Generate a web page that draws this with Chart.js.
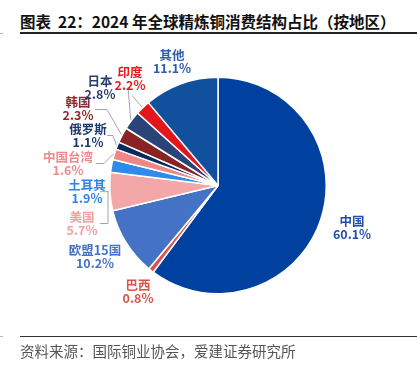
<!DOCTYPE html>
<html>
<head>
<meta charset="utf-8">
<script src="https://cdn.jsdelivr.net/npm/chart.js@4.4.1/dist/chart.umd.min.js"></script>
<style>
    body { margin: 0; background: #fff; }
    #wrap { position: relative; width: 417px; height: 371px; overflow: hidden; font-family: "Noto Sans CJK SC", "Noto Sans", sans-serif; }
    #title { position: absolute; left: 20px; top: 11px; font-size: 15.5px; font-weight: bold; color: #111; white-space: nowrap; line-height: 20px; }
    #tline { position: absolute; left: 20px; right: 0; top: 32px; height: 2px; background: #222; }
    #sline { position: absolute; left: 20px; right: 0; top: 336px; height: 1px; background: #333; }
    #source { position: absolute; left: 20px; top: 341px; font-size: 14.5px; color: #555; white-space: nowrap; line-height: 20px; }
    .tick { position: absolute; left: 0; width: 3px; height: 1px; background: #bbb; }
    canvas { position: absolute; left: 0; top: 0; }
</style>
</head>
<body>
<div id="wrap">
    <div id="title">图表&nbsp; 22：2024 年全球精炼铜消费结构占比（按地区）</div>
    <div id="tline"></div>
    <div class="tick" style="top:33px"></div>
    <canvas id="pie" width="417" height="371"></canvas>
    <div id="sline"></div>
    <div class="tick" style="top:336px"></div>
    <div id="source">资料来源：国际铜业协会，爱建证券研究所</div>
</div>
<script>
// ---------------------------- Données ------------------------------------
const regions = ['中国', '巴西', '欧盟15国', '美国', '土耳其', '中国台湾', '俄罗斯', '韩国', '日本', '印度', '其他'];
const shares = [60.1, 0.8, 10.2, 5.7, 1.9, 1.6, 1.1, 2.3, 2.8, 2.2, 11.1];

// couleurs des parts et des étiquettes
const sliceColors = ['#0041a0', '#d9534c', '#4472c4', '#f4a7a9', '#2e8bea', '#f08585', '#0b2a5e', '#8a2424', '#2a4478', '#e4161c', '#11509c'];
const labelColors = ['#1f4fa8', '#d9534c', '#4472c4', '#f2a0a2', '#2e86e8', '#f08a8a', '#1f3a6e', '#8b2b2b', '#2c3e6e', '#e8191f', '#2e5daa'];

// position des étiquettes (décalage par rapport au centre du camembert)
const labelPos = [[134, 36], [-80, 100], [-123, 65], [-136, 32], [-131, 0], [-150, -28], [-130, -56], [-140, -83], [-118, -104], [-88, -113], [-46, -130]];
// lignes de rappel : points après le milieu de l'arc (décalage par rapport au centre)
const leaders = {
    9: [[-86, -90]],
    8: [[-90, -98]],
    7: [[-111, -76], [-123, -76]],
    6: [[-105, -50], [-111, -50]],
    5: [[-114, -22], [-122, -22]]
};

const leaderPlugin = {
    id: 'leaderLabels',
    afterDraw(chart) {
        const ctx = chart.ctx;
        const arcs = chart.getDatasetMeta(0).data;
        const cx = arcs[0].x;
        const cy = arcs[0].y;
        ctx.save();
        ctx.strokeStyle = '#a6a6a6';
        ctx.lineWidth = 1;
        Object.keys(leaders).forEach(k => {
            const a = arcs[k];
            const mid = (a.startAngle + a.endAngle) / 2;
            const r = a.outerRadius + 1;
            ctx.beginPath();
            ctx.moveTo(cx + Math.cos(mid) * r, cy + Math.sin(mid) * r);
            leaders[k].forEach(p => ctx.lineTo(cx + p[0], cy + p[1]));
            ctx.stroke();
        });
        // crochet pour 土耳其 / 美国
        const us = arcs[3];
        const midUs = (us.startAngle + us.endAngle) / 2;
        const px = cx + Math.cos(midUs) * (us.outerRadius + 1);
        const py = cy + Math.sin(midUs) * (us.outerRadius + 1);
        ctx.beginPath();
        ctx.moveTo(px, py);
        ctx.lineTo(cx - 118, py);
        ctx.moveTo(cx - 110, py);
        ctx.lineTo(cx - 110, cy + 38);
        ctx.lineTo(cx - 118, cy + 38);
        ctx.stroke();

        ctx.font = 'bold 12.5px "Noto Sans CJK SC", "Noto Sans", sans-serif';
        ctx.textAlign = 'center';
        ctx.textBaseline = 'middle';
        regions.forEach((name, i) => {
            const x = cx + labelPos[i][0];
            const y = cy + labelPos[i][1];
            ctx.fillStyle = labelColors[i];
            ctx.fillText(name, x, y);
            ctx.fillText(shares[i].toFixed(1) + '%', x, y + 13);
        });
        ctx.restore();
    }
};

new Chart(document.getElementById('pie'), {
    type: 'pie',
    data: {
        labels: regions,
        datasets: [{
            data: shares,
            backgroundColor: sliceColors,
            borderColor: '#ffffff',
            borderWidth: 1.5
        }]
    },
    options: {
        responsive: false,
        animation: false,
        devicePixelRatio: 1,
        layout: { padding: { left: 109, right: 90, top: 76.5, bottom: 76.5 } },
        plugins: {
            legend: { display: false },
            tooltip: { enabled: false }
        }
    },
    plugins: [leaderPlugin]
});
</script>
</body>
</html>
